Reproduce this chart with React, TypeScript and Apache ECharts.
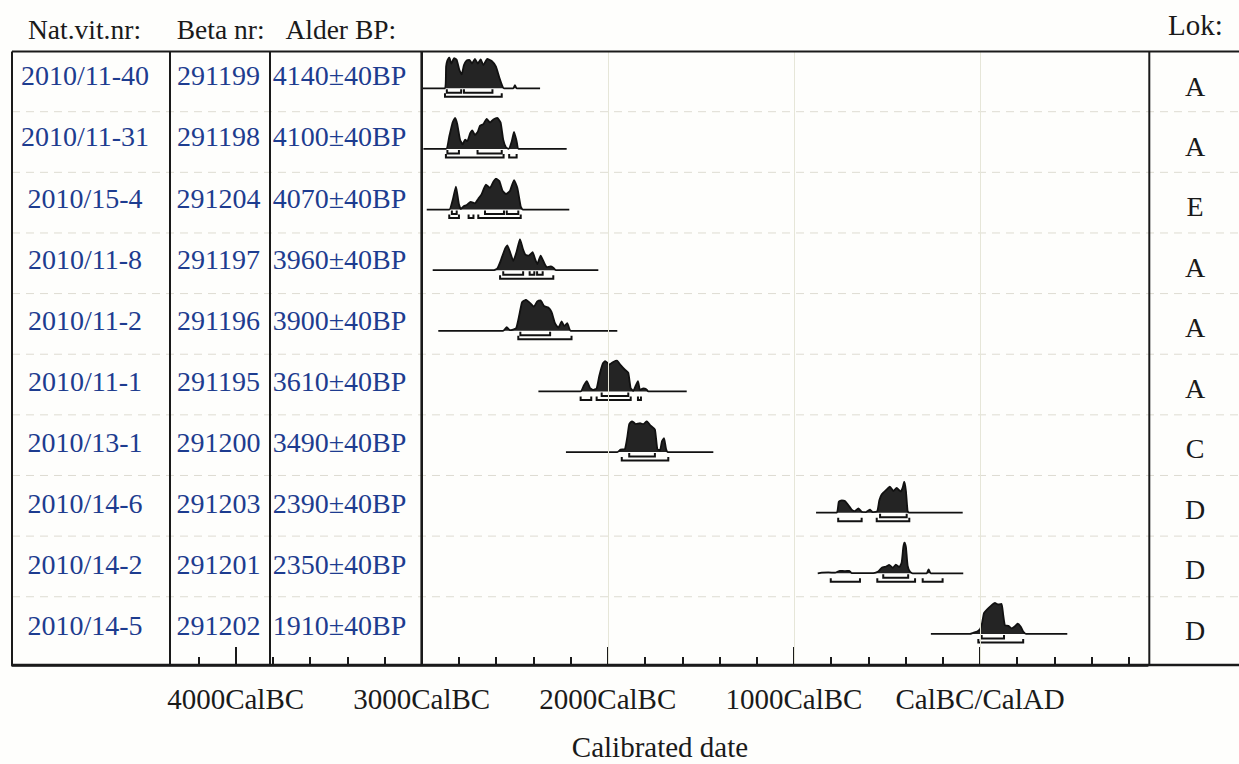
import React, { useEffect, useRef } from "react";
import * as echarts from "echarts";

// ---------- data ----------
const sampleIds = ["2010/11-40", "2010/11-31", "2010/15-4", "2010/11-8", "2010/11-2", "2010/11-1", "2010/13-1", "2010/14-6", "2010/14-2", "2010/14-5"];
const betaNrs = ["291199", "291198", "291204", "291197", "291196", "291195", "291200", "291203", "291201", "291202"];
const ages = ["4140±40BP", "4100±40BP", "4070±40BP", "3960±40BP", "3900±40BP", "3610±40BP", "3490±40BP", "2390±40BP", "2350±40BP", "1910±40BP"];
const localities = ["A", "A", "E", "A", "A", "A", "C", "D", "D", "D"];

// extent of each plotted calibration baseline (cal years, BC negative)
const curveSpans = [
  [-2995, -2364], [-2991, -2221], [-2973, -2207], [-2941, -2051], [-2911, -1949],
  [-2373, -1576], [-2225, -1433], [-881, -93], [-872, -90], [-264, 469],
];

// probability distributions (year, relative probability)
const d4140 = [[-2875, 0], [-2869, 0.7], [-2862, 0.9], [-2852, 1.0], [-2841, 0.8], [-2826, 0.97], [-2812, 0.92], [-2798, 0.6], [-2785, 0.45], [-2773, 0.75], [-2758, 0.9], [-2744, 0.92], [-2730, 0.8], [-2714, 0.95], [-2699, 0.8], [-2683, 0.93], [-2669, 0.75], [-2648, 0.95], [-2624, 0.88], [-2601, 0.7], [-2583, 0.35], [-2565, 0.05], [-2558, 0], [-2508, 0], [-2499, 0.1], [-2490, 0]];
const d4100 = [[-2869, 0], [-2852, 0.4], [-2834, 0.85], [-2821, 1.0], [-2809, 0.8], [-2794, 0.3], [-2780, 0.15], [-2767, 0.3], [-2755, 0.25], [-2740, 0.5], [-2728, 0.6], [-2714, 0.45], [-2699, 0.55], [-2687, 0.75], [-2669, 0.8], [-2651, 0.97], [-2633, 0.85], [-2615, 0.95], [-2594, 1.0], [-2576, 0.85], [-2562, 0.3], [-2547, 0.05], [-2533, 0], [-2516, 0.25], [-2504, 0.55], [-2490, 0.25], [-2479, 0]];
const d4070 = [[-2852, 0], [-2834, 0.3], [-2816, 0.74], [-2801, 0.2], [-2790, 0.02], [-2776, 0.1], [-2758, 0.15], [-2737, 0.25], [-2714, 0.2], [-2696, 0.35], [-2678, 0.5], [-2655, 0.8], [-2633, 0.7], [-2615, 0.9], [-2601, 1.0], [-2583, 0.92], [-2565, 0.6], [-2547, 0.5], [-2526, 0.6], [-2504, 0.95], [-2486, 0.7], [-2468, 0.1], [-2457, 0]];
const d3960 = [[-2615, 0], [-2594, 0.05], [-2576, 0.3], [-2552, 0.7], [-2540, 0.8], [-2526, 0.6], [-2508, 0.3], [-2490, 0.6], [-2472, 1.0], [-2457, 0.7], [-2443, 0.5], [-2425, 0.47], [-2404, 0.58], [-2390, 0.35], [-2379, 0.2], [-2361, 0.47], [-2343, 0.25], [-2328, 0.1], [-2307, 0.12], [-2293, 0.08], [-2278, 0]];
const d3900 = [[-2562, 0], [-2543, 0.12], [-2526, 0.02], [-2493, 0.08], [-2476, 0.5], [-2461, 0.92], [-2440, 1.0], [-2418, 0.9], [-2397, 0.78], [-2379, 0.95], [-2361, 0.98], [-2343, 0.8], [-2320, 0.75], [-2302, 0.6], [-2284, 0.25], [-2266, 0.1], [-2248, 0.3], [-2234, 0.15], [-2218, 0.25], [-2200, 0]];
const d3610 = [[-2146, 0], [-2128, 0.2], [-2113, 0.33], [-2096, 0.12], [-2081, 0.05], [-2060, 0.1], [-2046, 0.5], [-2027, 0.9], [-2014, 0.98], [-1992, 0.87], [-1971, 0.95], [-1952, 1.0], [-1931, 0.85], [-1908, 0.7], [-1890, 0.6], [-1877, 0.1], [-1863, 0.02], [-1849, 0.2], [-1838, 0.33], [-1827, 0.05], [-1809, 0.1], [-1795, 0.08], [-1782, 0]];
const d3490 = [[-1949, 0], [-1931, 0.08], [-1908, 0.1], [-1895, 0.5], [-1885, 0.9], [-1870, 1.0], [-1849, 0.9], [-1827, 0.93], [-1809, 0.9], [-1791, 1.0], [-1770, 0.85], [-1747, 0.73], [-1734, 0.1], [-1720, 0.05], [-1709, 0.35], [-1698, 0.45], [-1687, 0.1], [-1677, 0]];
const d2390 = [[-770, 0], [-759, 0.35], [-743, 0.4], [-726, 0.38], [-708, 0.25], [-690, 0.1], [-672, 0.05], [-654, 0.14], [-636, 0.03], [-613, 0.02], [-591, 0.1], [-577, 0.02], [-552, 0.05], [-541, 0.4], [-527, 0.6], [-505, 0.73], [-484, 0.84], [-466, 0.7], [-448, 0.8], [-426, 0.68], [-416, 0.8], [-407, 1.0], [-398, 0.7], [-389, 0.05], [-380, 0]];
const d2350 = [[-869, 0], [-851, 0.02], [-815, 0.03], [-779, 0.02], [-753, 0.08], [-726, 0.07], [-703, 0.08], [-690, 0.01], [-573, 0.01], [-547, 0.06], [-528, 0.18], [-505, 0.22], [-488, 0.27], [-469, 0.18], [-452, 0.28], [-434, 0.2], [-421, 0.35], [-412, 0.85], [-405, 1.0], [-398, 0.85], [-389, 0.25], [-376, 0.05], [-362, 0], [-287, 0], [-276, 0.13], [-265, 0]];
const d1910 = [[-54, 0], [-36, 0.04], [-15, 0.08], [0, 0.15], [11, 0.35], [21, 0.67], [36, 0.78], [57, 0.9], [80, 1.0], [98, 0.95], [116, 0.97], [125, 0.6], [134, 0.28], [152, 0.26], [170, 0.18], [188, 0.25], [202, 0.33], [218, 0.24], [232, 0.08], [247, 0]];
const densities = [d4140, d4100, d4070, d3960, d3900, d3610, d3490, d2390, d2350, d1910];

// 68.2 % and 95.4 % ranges
const ranges68 = [
  [[-2865, -2788], [-2773, -2620]],
  [[-2862, -2800], [-2700, -2570]],
  [[-2838, -2812], [-2660, -2558], [-2543, -2481]],
  [[-2562, -2455], [-2420, -2395], [-2380, -2350]],
  [[-2470, -2310]],
  [[-2033, -1890]],
  [[-1885, -1747]],
  [[-537, -394]],
  [[-520, -386]],
  [[9, 129]],
];
const ranges95 = [
  [[-2875, -2570]],
  [[-2870, -2560], [-2530, -2490]],
  [[-2852, -2800], [-2748, -2722], [-2696, -2468]],
  [[-2579, -2293]],
  [[-2481, -2195]],
  [[-2146, -2089], [-2060, -1877], [-1838, -1822]],
  [[-1925, -1675]],
  [[-762, -636], [-555, -380]],
  [[-802, -645], [-552, -349], [-308, -201]],
  [[-9, 232]],
];

const majorTicks = [-4000, -3000, -2000, -1000, 0];
const minorTicks = [-4200, -3800, -3600, -3400, -3200, -2800, -2600, -2400, -2200, -1800, -1600, -1400, -1200, -800, -600, -400, -200, 200, 400, 600, 800];
const gridYears = [-2000, -1000, 0];
const axisMin = -5200;
const axisMax = 900;

const headers = ["Nat.vit.nr:", "Beta nr:", "Alder BP:"];
const lokHeader = "Lok:";
const axisTitle = "Calibrated date";

function tickLabel(v: number): string {
  if (v < 0) return `${-v}CalBC`;
  if (v === 0) return "CalBC/CalAD";
  return `${v}CalAD`;
}

// ---------- layout ----------
const PLOT_LEFT = 12.3;
const PLOT_W = 1135.2;
const TABLE_TOP = 51.5;
const TABLE_BOTTOM = 665;
const BASE0 = 88.3;
const PITCH = 60.63;
const PEAK = 31;
const YMIN = -0.4;
const FONT = "'Liberation Serif', 'Times New Roman', serif";
const INK = "#1a1a1a";
const BLUE = "#1d3c8f";

export default function App() {
  const ref = useRef<HTMLDivElement>(null);

  useEffect(() => {
    if (!ref.current) return;
    const chart = echarts.init(ref.current, undefined, { renderer: "svg" });
    const n = sampleIds.length;

    const grids: any[] = [];
    const xAxes: any[] = [];
    const yAxes: any[] = [];
    const series: any[] = [];

    for (let i = 0; i < n; i++) {
      const base = BASE0 + i * PITCH;
      grids.push({ left: PLOT_LEFT, width: PLOT_W, top: base - PEAK, height: PEAK * (1 - YMIN) });
      xAxes.push({ gridIndex: i, type: "value", min: axisMin, max: axisMax, show: false });
      yAxes.push({ gridIndex: i, type: "value", min: YMIN, max: 1, show: false });
      const span = curveSpans[i];
      series.push({
        type: "line",
        xAxisIndex: i,
        yAxisIndex: i,
        data: [[span[0], 0], ...densities[i], [span[1], 0]],
        symbol: "none",
        smooth: 0.15,
        lineStyle: { color: "#111", width: 1.8 },
        areaStyle: { color: "#242424", opacity: 1, origin: 0 },
        z: 3,
      });
      const brackets = [
        ...ranges68[i].map((r) => [r[0], r[1], 1]),
        ...ranges95[i].map((r) => [r[0], r[1], 2]),
      ];
      series.push({
        type: "custom",
        xAxisIndex: i,
        yAxisIndex: i,
        data: brackets,
        encode: { x: [0, 1] },
        z: 4,
        renderItem: (_p: any, api: any) => {
          const a = api.coord([api.value(0), 0]);
          const b = api.coord([api.value(1), 0]);
          const lvl = api.value(2);
          const y = a[1] + (lvl === 1 ? 4.5 : 8.5);
          const up = 3.5;
          return {
            type: "polyline",
            shape: { points: [[a[0], y - up], [a[0], y], [b[0], y], [b[0], y - up]] },
            style: { stroke: "#111", lineWidth: 2, fill: "none" },
          };
        },
      });
    }

    // full-height grid carrying the date axis
    const gi = n;
    grids.push({ left: PLOT_LEFT, width: PLOT_W, top: TABLE_TOP, height: TABLE_BOTTOM - TABLE_TOP });
    xAxes.push({
      gridIndex: gi,
      type: "value",
      min: axisMin,
      max: axisMax,
      position: "bottom",
      axisLine: { show: true, lineStyle: { color: INK, width: 2.5 } },
      axisTick: { show: true, inside: true, length: 18, customValues: majorTicks, lineStyle: { color: INK, width: 2 } },
      axisLabel: {
        show: true,
        customValues: majorTicks,
        formatter: (v: number) => tickLabel(v),
        fontFamily: FONT,
        fontSize: 29,
        color: INK,
        margin: 19,
      },
      splitLine: { show: false },
    });
    xAxes.push({
      gridIndex: gi,
      type: "value",
      min: axisMin,
      max: axisMax,
      position: "bottom",
      axisLine: { show: false },
      axisTick: { show: true, inside: true, length: 8, customValues: minorTicks, lineStyle: { color: INK, width: 2 } },
      axisLabel: { show: false },
      splitLine: { show: false },
    });
    yAxes.push({ gridIndex: gi, type: "value", min: 0, max: 1, show: false });
    series.push({
      type: "line",
      xAxisIndex: n,
      yAxisIndex: n,
      data: [[axisMin, 0]],
      symbol: "none",
      lineStyle: { width: 0 },
      z: 1,
      markLine: {
        silent: true,
        symbol: "none",
        label: { show: false },
        lineStyle: { color: "#e6e6d8", width: 1, type: "solid" },
        data: gridYears.map((v) => ({ xAxis: v })),
      },
    });

    // ---------- table drawing ----------
    const g: any[] = [];
    const line = (x1: number, y1: number, x2: number, y2: number, w: number) =>
      g.push({ type: "line", z: 20, shape: { x1, y1, x2, y2 }, style: { stroke: INK, lineWidth: w } });

    for (let k = 0; k < n - 1; k++) {
      const y = BASE0 + 23.4 + k * PITCH;
      g.push({ type: "line", z: 0, shape: { x1: 12, y1: y, x2: 1239, y2: y }, style: { stroke: "#dedcd2", lineWidth: 1, lineDash: [8, 6] } });
    }
    line(12, TABLE_TOP, 1239, TABLE_TOP, 2.2);
    line(12, TABLE_BOTTOM, 1239, TABLE_BOTTOM, 2.5);
    line(12, TABLE_TOP, 12, TABLE_BOTTOM, 2);
    line(170, TABLE_TOP, 170, TABLE_BOTTOM, 2);
    line(270, TABLE_TOP, 270, TABLE_BOTTOM, 2);
    line(421.7, TABLE_TOP, 421.7, TABLE_BOTTOM, 2.6);
    line(1149.3, TABLE_TOP, 1149.3, TABLE_BOTTOM, 2);

    const text = (t: string, x: number, y: number, size: number, color: string, align: string) =>
      g.push({
        type: "text",
        z: 21,
        x,
        y,
        style: { text: t, fontFamily: FONT, fontSize: size, fill: color, align, verticalAlign: "middle" },
      });

    const headerX = [28, 176.7, 285.4];
    headers.forEach((h, j) => text(h, headerX[j], 29, 27.5, INK, "left"));
    text(lokHeader, 1168, 25.2, 29, INK, "left");

    for (let i = 0; i < n; i++) {
      const y = 75.8 + i * 61.1;
      text(sampleIds[i], 85, y, 28, BLUE, "center");
      text(betaNrs[i], 218.5, y, 28, BLUE, "center");
      text(ages[i], 339.5, y, 28, BLUE, "center");
      text(localities[i], 1195, 86 + i * 60.45, 28, INK, "center");
    }
    text(axisTitle, 660, 747, 29, INK, "center");

    chart.setOption({
      animation: false,
      backgroundColor: "#fefefc",
      grid: grids,
      xAxis: xAxes,
      yAxis: yAxes,
      series,
      graphic: { elements: g },
    });

    return () => chart.dispose();
  }, []);

  return <div ref={ref} style={{ position: "absolute", left: 0, top: 0, width: 1239, height: 764 }} />;
}
